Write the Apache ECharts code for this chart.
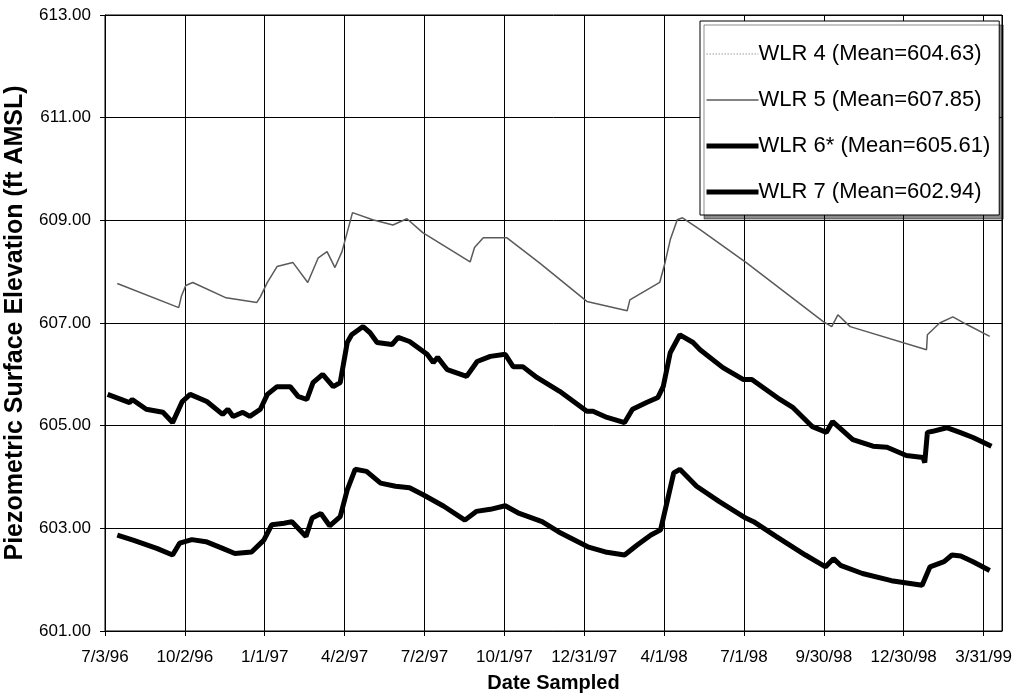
<!DOCTYPE html>
<html>
<head>
<meta charset="utf-8">
<script src="https://cdn.jsdelivr.net/npm/echarts@6/dist/echarts.min.js"></script>
<style>
html,body{margin:0;padding:0;background:#fff;}
#chart{width:1020px;height:700px;}
</style>
</head>
<body>
<div id="chart"></div>
<script>
// ---- data ----
const startDate = '1996-07-03';
const endDate = '1999-04-21';
const tickStepDays = 91;
const yMin = 601, yMax = 613, yStep = 2;

const seriesNames = ['WLR 4 (Mean=604.63)', 'WLR 5 (Mean=607.85)', 'WLR 6* (Mean=605.61)', 'WLR 7 (Mean=602.94)'];

const wlr4Dates = [];
const wlr4Vals = [];

const wlr5Dates = ['1996-07-17','1996-09-25','1996-09-28','1996-10-03','1996-10-11','1996-11-18','1996-12-23','1996-12-27','1997-01-04','1997-01-15','1997-02-02','1997-02-19','1997-03-03','1997-03-13','1997-03-22','1997-03-30','1997-04-11','1997-05-04','1997-05-27','1997-06-12','1997-06-30','1997-08-23','1997-08-28','1997-09-07','1997-10-04','1997-11-10','1998-01-03','1998-02-18','1998-02-21','1998-03-27','1998-04-02','1998-04-08','1998-04-16','1998-04-22','1998-05-12','1998-07-04','1998-09-29','1998-10-09','1998-10-16','1998-10-30','1999-01-25','1999-01-26','1999-02-09','1999-02-24','1999-03-12','1999-04-07'];
const wlr5Vals = [607.77,607.30,607.52,607.73,607.79,607.49,607.40,607.51,607.79,608.10,608.18,607.79,608.27,608.39,608.08,608.39,609.15,609.01,608.91,609.03,608.76,608.19,608.47,608.66,608.66,608.17,607.42,607.24,607.45,607.79,608.17,608.62,609.01,609.05,608.82,608.17,607.03,606.93,607.16,606.93,606.48,606.77,607.00,607.12,606.97,606.74];

const wlr6Dates = ['1996-07-06','1996-07-31','1996-08-03','1996-08-19','1996-09-07','1996-09-18','1996-09-29','1996-10-08','1996-10-27','1996-11-14','1996-11-20','1996-11-26','1996-12-07','1996-12-15','1996-12-27','1997-01-04','1997-01-15','1997-01-30','1997-02-08','1997-02-18','1997-02-25','1997-03-08','1997-03-20','1997-03-28','1997-04-05','1997-04-10','1997-04-23','1997-05-01','1997-05-09','1997-05-26','1997-06-02','1997-06-15','1997-07-05','1997-07-12','1997-07-17','1997-07-28','1997-08-19','1997-08-31','1997-09-15','1997-10-02','1997-10-11','1997-10-22','1997-11-07','1997-12-03','1998-01-03','1998-01-10','1998-01-26','1998-02-15','1998-02-24','1998-03-12','1998-03-25','1998-03-31','1998-04-08','1998-04-19','1998-05-04','1998-05-12','1998-06-07','1998-06-30','1998-07-10','1998-08-11','1998-08-26','1998-09-17','1998-10-03','1998-10-10','1998-11-02','1998-11-25','1998-12-11','1999-01-02','1999-01-21','1999-01-23','1999-01-26','1999-02-01','1999-02-17','1999-03-04','1999-03-19','1999-04-09'];
const wlr6Vals = [605.61,605.45,605.51,605.32,605.26,605.06,605.47,605.61,605.47,605.22,605.32,605.18,605.26,605.18,605.32,605.61,605.76,605.76,605.57,605.51,605.84,606.00,605.76,605.84,606.62,606.77,606.93,606.81,606.62,606.58,606.72,606.64,606.39,606.23,606.33,606.09,605.96,606.25,606.35,606.39,606.15,606.15,605.94,605.67,605.28,605.28,605.16,605.06,605.32,605.45,605.55,605.76,606.42,606.77,606.62,606.48,606.13,605.90,605.90,605.51,605.35,604.98,604.87,605.08,604.73,604.60,604.58,604.42,604.38,604.28,604.87,604.89,604.96,604.87,604.77,604.60];

const wlr7Dates = ['1996-07-17','1996-08-04','1996-08-31','1996-09-18','1996-09-26','1996-10-10','1996-10-26','1996-11-14','1996-11-28','1996-12-17','1996-12-31','1997-01-09','1997-01-23','1997-02-01','1997-02-17','1997-02-24','1997-03-06','1997-03-16','1997-03-28','1997-04-05','1997-04-14','1997-04-27','1997-05-13','1997-05-30','1997-06-15','1997-07-01','1997-07-24','1997-08-17','1997-08-30','1997-09-15','1997-10-02','1997-10-18','1997-11-13','1997-12-02','1998-01-04','1998-01-24','1998-02-15','1998-03-01','1998-03-17','1998-03-28','1998-04-05','1998-04-12','1998-04-19','1998-05-08','1998-06-03','1998-07-03','1998-07-12','1998-08-07','1998-09-09','1998-10-02','1998-10-11','1998-10-19','1998-11-13','1998-12-16','1999-01-20','1999-01-29','1999-02-14','1999-02-23','1999-03-05','1999-03-19','1999-04-07'];
const wlr7Vals = [602.87,602.77,602.61,602.48,602.71,602.78,602.74,602.61,602.51,602.54,602.77,603.07,603.10,603.13,602.84,603.20,603.29,603.05,603.23,603.75,604.15,604.11,603.88,603.82,603.79,603.65,603.43,603.16,603.33,603.37,603.44,603.29,603.13,602.93,602.64,602.54,602.48,602.67,602.87,602.97,603.56,604.08,604.15,603.82,603.52,603.20,603.13,602.84,602.48,602.25,602.41,602.28,602.12,601.98,601.89,602.25,602.35,602.48,602.46,602.35,602.18];

// ---- helpers ----
const DAY = 86400000;
function toUTC(s){ const p = s.split('-').map(Number); return Date.UTC(p[0], p[1]-1, p[2]); }
const t0 = toUTC(startDate);
function dayOffset(s){ return Math.round((toUTC(s) - t0) / DAY); }
function fmtDate(off){
  const d = new Date(t0 + off * DAY);
  return (d.getUTCMonth()+1) + '/' + d.getUTCDate() + '/' + String(d.getUTCFullYear()).slice(2);
}
function build(dates, vals){ return dates.map((d,i)=>[dayOffset(d), vals[i] - yMin]); }

const FONT = 'Arial, "Liberation Sans", sans-serif';
const styles = [
  {color: '#bdbdbd', width: 1.5, type: 'dotted'},
  {color: '#5a5a5a', width: 1.5, type: 'solid'},
  {color: '#000', width: 5, type: 'solid'},
  {color: '#000', width: 5, type: 'solid'}
];
const seriesData = [build(wlr4Dates, wlr4Vals), build(wlr5Dates, wlr5Vals), build(wlr6Dates, wlr6Vals), build(wlr7Dates, wlr7Vals)];

const chart = echarts.init(document.getElementById('chart'), null, {renderer:'canvas'});
chart.setOption({
  animation: false,
  backgroundColor: '#fff',
  textStyle: {fontFamily: FONT, color:'#000'},
  grid: {left: 105, right: 18, top: 15, bottom: 69, show: true, borderColor: '#000', borderWidth: 1,
         backgroundColor: 'transparent', containLabel: false, outerBoundsMode: 'none'},
  legend: {
    orient: 'vertical',
    left: 700, top: 21,
    padding: [22, 9, 12, 4],
    itemGap: 24,
    itemWidth: 52,
    itemHeight: 14,
    backgroundColor: '#fff',
    borderColor: '#000',
    borderWidth: 1,
    shadowColor: 'rgba(0,0,0,0.45)',
    shadowBlur: 0,
    shadowOffsetX: 4,
    shadowOffsetY: 4,
    itemStyle: {opacity: 0},
    textStyle: {fontFamily: FONT, fontSize: 22, color: '#000', padding: [0,0,0,-5]},
    data: seriesNames.map((n, i) => ({name: n, lineStyle: {color: styles[i].color, width: styles[i].width, type: styles[i].type, opacity: 1}}))
  },
  xAxis: {
    type: 'value',
    min: 0,
    max: dayOffset(endDate),
    interval: tickStepDays,
    name: 'Date Sampled',
    nameLocation: 'middle',
    nameGap: 42,
    nameTextStyle: {fontFamily: FONT, fontSize: 20, fontWeight: 'bold', color:'#000'},
    axisLine: {show: true, lineStyle: {color: '#000', width: 1}},
    axisTick: {show: true, inside: false, length: 5, lineStyle:{color:'#000'}},
    axisLabel: {
      fontFamily: FONT, fontSize: 17, color: '#000', margin: 18, showMaxLabel: false,
      formatter: v => (v % tickStepDays === 0 ? fmtDate(v) : '')
    },
    splitLine: {show: true, lineStyle: {color: '#000', width: 1}}
  },
  yAxis: {
    type: 'value',
    min: 0,
    max: yMax - yMin,
    interval: yStep,
    name: 'Piezometric Surface Elevation (ft AMSL)',
    nameLocation: 'middle',
    nameRotate: 90,
    nameGap: 74,
    nameTextStyle: {fontFamily: FONT, fontSize: 25, fontWeight: 'bold', color:'#000'},
    axisLine: {show: true, lineStyle: {color: '#000', width: 1}},
    axisTick: {show: true, inside: false, length: 5, lineStyle:{color:'#000'}},
    axisLabel: {fontFamily: FONT, fontSize: 17, color: '#000', margin: 14, formatter: v => (v + yMin).toFixed(2)},
    splitLine: {show: true, lineStyle: {color: '#000', width: 1}}
  },
  series: seriesNames.map((n, i) => ({
    name: n, type: 'line', symbol: 'none', data: seriesData[i],
    color: styles[i].color, lineStyle: {color: styles[i].color, width: styles[i].width, type: styles[i].type}
  }))
});
</script>
</body>
</html>
